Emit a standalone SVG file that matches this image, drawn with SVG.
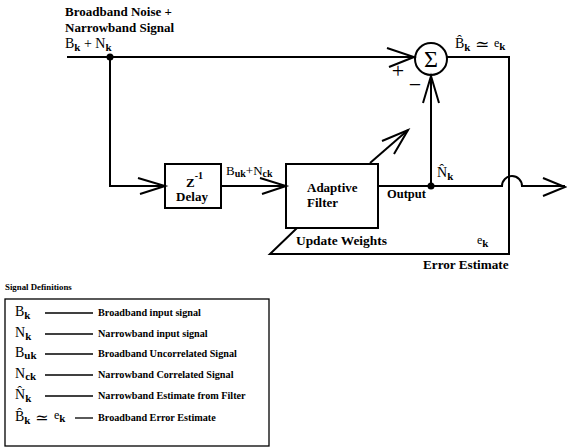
<svg xmlns="http://www.w3.org/2000/svg" width="567" height="448" viewBox="0 0 567 448">
<style>
.ln{stroke:#000;stroke-width:2;fill:none}
.thin{stroke:#000;stroke-width:1.3;fill:none}
.b{font-weight:bold}
.lg{font-size:10.2px;font-weight:bold}
</style>
<rect width="567" height="448" fill="#fff"/>
<g id="connectors">
<polyline class="ln" points="67,57 414,57"/>
<polyline class="ln" points="387,48 414,57 389,67"/>
<polyline class="ln" points="110,57 110,186 165,186"/>
<polyline class="ln" points="138,178 165,186 140,194"/>
<line class="ln" x1="221" y1="186" x2="286" y2="186"/>
<polyline class="ln" points="260,178 286,186 262,194"/>
<path class="ln" d="M378,186 H502 A10,10 0 0 1 522,186 H565"/>
<polyline class="ln" points="543,178 565,187 543,196"/>
<line class="ln" x1="431" y1="186" x2="431" y2="76"/>
<polyline class="ln" points="423,103 431,76 439,103"/>
<polyline class="ln" points="447,57 509,57 509,254 270,254 297,228"/>
<line class="ln" x1="370" y1="163" x2="408" y2="130"/>
<polyline class="ln" points="382,141 408,130 394,154"/>
<circle cx="110" cy="57" r="3.5" fill="#000"/>
<circle cx="431" cy="186" r="3.5" fill="#000"/>
</g>
<g font-family="Liberation Serif, Times New Roman, DejaVu Serif, serif" fill="#000">
<g id="input-label">
<text class="b" x="65" y="16" font-size="13">Broadband Noise +</text>
<text class="b" x="65" y="32" font-size="13">Narrowband Signal</text>
<text x="65" y="48" font-size="14">B<tspan class="b" font-size="11" dy="3">k</tspan><tspan dy="-3"> + N</tspan><tspan class="b" font-size="11" dy="3">k</tspan></text>
</g>
<g id="sum">
<circle class="ln" cx="431" cy="59" r="16"/>
<text x="431" y="67" font-size="24" text-anchor="middle">Σ</text>
<text x="398" y="78" font-size="22" text-anchor="middle">+</text>
<text x="415" y="92" font-size="22" text-anchor="middle">−</text>
</g>
<g id="error-label">
<text x="455" y="48" font-size="14">B&#x302;<tspan class="b" font-size="11" dy="3">k</tspan></text>
<text x="475" y="50" font-size="17">≃</text>
<text x="494" y="47" font-size="12">e<tspan class="b" font-size="11" dy="3">k</tspan></text>
</g>
<g id="delay">
<rect class="ln" x="165" y="164" width="56" height="44"/>
<text class="b" x="186" y="187" font-size="13">Z<tspan font-size="10" dy="-8">-1</tspan></text>
<text class="b" x="192" y="201" font-size="13" text-anchor="middle">Delay</text>
</g>
<g id="delay-label">
<text x="226" y="175" font-size="13">B<tspan class="b" font-size="10" dy="2">uk</tspan><tspan dy="-2">+N</tspan><tspan class="b" font-size="10" dy="2">ck</tspan></text>
</g>
<g id="adaptive-filter">
<rect class="ln" x="286" y="164" width="92" height="64"/>
<text class="b" x="307" y="192" font-size="13">Adaptive</text>
<text class="b" x="307" y="207" font-size="13">Filter</text>
</g>
<g id="output-labels">
<text class="b" x="387" y="198" font-size="12.5">Output</text>
<text x="437" y="177" font-size="14">N&#x302;<tspan class="b" font-size="11" dy="3">k</tspan></text>
<text class="b" x="296" y="245" font-size="13.4">Update Weights</text>
<text x="477" y="244" font-size="12">e<tspan class="b" font-size="11" dy="3">k</tspan></text>
<text class="b" x="423" y="269" font-size="13.2">Error Estimate</text>
</g>
<g id="legend">
<text class="b" x="5" y="290" font-size="8.8">Signal Definitions</text>
<rect x="5" y="299" width="264" height="147" fill="none" stroke="#000" stroke-width="1.3"/>
<text x="15" y="316" font-size="14">B<tspan class="b" font-size="11" dy="3">k</tspan></text>
<line class="thin" x1="45" y1="313" x2="93" y2="313"/>
<text class="lg" x="98" y="316">Broadband input signal</text>
<text x="15" y="337" font-size="14">N<tspan class="b" font-size="11" dy="3">k</tspan></text>
<line class="thin" x1="45" y1="334" x2="93" y2="334"/>
<text class="lg" x="98" y="337">Narrowband input signal</text>
<text x="15" y="357" font-size="14">B<tspan class="b" font-size="11" dy="2">uk</tspan></text>
<line class="thin" x1="45" y1="354" x2="93" y2="354"/>
<text class="lg" x="98" y="357">Broadband Uncorrelated Signal</text>
<text x="15" y="378" font-size="14">N<tspan class="b" font-size="11" dy="2">ck</tspan></text>
<line class="thin" x1="45" y1="375" x2="93" y2="375"/>
<text class="lg" x="98" y="378">Narrowband Correlated Signal</text>
<text x="15" y="399" font-size="14">N&#x302;<tspan class="b" font-size="11" dy="3">k</tspan></text>
<line class="thin" x1="45" y1="396" x2="93" y2="396"/>
<text class="lg" x="98" y="399">Narrowband Estimate from Filter</text>
<text x="15" y="421" font-size="14">B&#x302;<tspan class="b" font-size="11" dy="3">k</tspan></text>
<text x="35" y="423" font-size="16">≃</text>
<text x="54" y="419" font-size="12">e<tspan class="b" font-size="11" dy="3">k</tspan></text>
<line class="thin" x1="75" y1="418" x2="93" y2="418"/>
<text class="lg" x="98" y="421">Broadband Error Estimate</text>
</g>
</g>
</svg>
